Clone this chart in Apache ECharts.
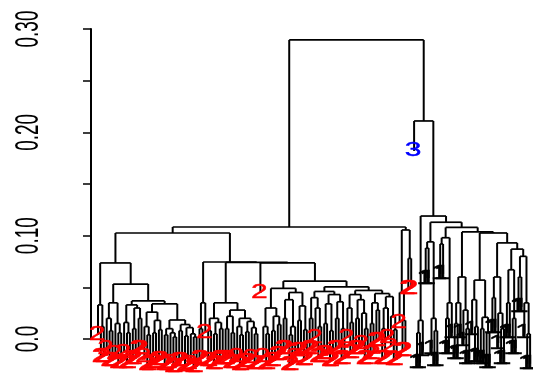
<!DOCTYPE html>
<html>
<head>
<meta charset="utf-8">
<script src="https://cdn.jsdelivr.net/npm/echarts@6/dist/echarts.min.js"></script>
<style>
  html, body { margin: 0; padding: 0; background: #fff; }
  #chart { width: 533px; height: 377px; }
</style>
</head>
<body>
<div id="chart"></div>
<script>
// Dendrogram of 150 observations; leaf labels are group codes.
// Each cluster is [mergeHeight, left, right]; a string is a leaf label.

// --- low-level clusters, left branch ---
const clusterA = [0.033, "2", [0.012, "2", "2"]];
const clusterB = [0.035, [0.02, "2", [0.008, "2", "2"]], [0.015, "2", [0.006, "2", "2"]]];
const clusterC = [0.033, [0.016, "2", [0.006, "2", "2"]], [0.03, [0.01, "2", "2"], [0.02, "2", "2"]]];
const clusterD = [0.026, [0.012, "2", [0.004, "2", "2"]], [0.018, [0.006, "2", "2"], [0.009, "2", "2"]]];
const clusterE = [0.0184, [0.01, [0.004, "2", "2"], [0.006, "2", [0.002, "2", "2"]]],
                          [0.014, [0.008, "2", "2"], [0.011, [0.003, "2", "2"], [0.005, "2", [0.002, "2", "2"]]]]];
const clusterF = [0.035, [0.01, "2", "2"], "2"];
const clusterG = [0.02, [0.008, "2", "2"], [0.016, [0.005, "2", "2"], [0.01, "2", "2"]]];
const clusterH = [0.022, [0.01, "2", "2"], [0.006, "2", "2"]];
const clusterI = [0.02, [0.012, "2", [0.004, "2", "2"]], [0.017, [0.007, "2", "2"], [0.011, "2", [0.005, "2", "2"]]]];
const clusterJ = [0.030, [0.012, "2", [0.005, "2", "2"]], [0.022, [0.008, "2", "2"], [0.014, "2", "2"]]];
const clusterK = [0.045, [0.038, [0.02, "2", "2"], [0.012, [0.004, "2", "2"], "2"]], [0.032, [0.018, "2", "2"], [0.009, "2", "2"]]];
const clusterL = [0.046, [0.04, [0.02, "2", "2"], [0.03, "2", [0.012, "2", "2"]]],
                         [0.043, [0.034, [0.015, "2", "2"], [0.008, "2", "2"]], [0.036, [0.02, "2", "2"], [0.01, "2", "2"]]]];
const clusterM = [0.043, [0.03, "2", [0.016, "2", "2"]], [0.038, [0.02, "2", "2"], [0.025, "2", [0.01, "2", "2"]]]];
const clusterN = [0.044, [0.035, [0.015, "2", "2"], [0.028, "2", "2"]],
                         [0.041, [0.03, [0.01, "2", "2"], "2"], [0.022, "2", [0.009, "2", "2"]]]];
const clusterO = [0.1055, [0.045, "2", [0.018, "2", "2"]], [0.078, "2", "2"]];

// --- low-level clusters, right branch ---
const clusterP = [0.018, [0.006, "1", "1"], "1"];
const clusterQ = [0.094, [0.088, "1", "1"], [0.02, "1", [0.008, "1", "1"]]];
const clusterR = [0.098, [0.092, "1", "1"], [0.035, [0.02, "1", "1"], "1"]];
const clusterS = [0.06, [0.035, [0.015, "1", "1"], "1"], [0.028, "1", [0.01, "1", "1"]]];
const clusterT = [0.057, [0.038, "1", [0.012, "1", "1"]], [0.021, [0.01, "1", "1"], [0.006, "1", "1"]]];
const clusterU = [0.060, [0.04, "1", "1"], [0.025, "1", [0.01, "1", "1"]]];
const clusterV = [0.067, [0.035, "1", "1"], [0.02, "1", "1"]];
const clusterW = [0.080, [0.06, "1", "1"], [0.035, "1", [0.005, "1", "1"]]];

// --- upper merges joining the clusters above ---
const mergeNames   = ["a1b2b", "a1b2", "a1b", "a1", "q", "a2b1", "z1", "z2b", "z2", "z", "y", "x", "a2", "a", "left",
                      "rh", "rf", "re", "rd", "rc", "rb", "r2", "r", "root"];
const mergeHeights = [0.034, 0.0368, 0.0532, 0.0736, 0.028, 0.035, 0.049, 0.047, 0.0505, 0.056, 0.0736, 0.0741, 0.0745, 0.1026, 0.1084,
                      0.087, 0.093, 0.1026, 0.1036, 0.108, 0.113, 0.119, 0.211, 0.2894];
const mergeLeft    = ["D", "C", "B", "A", "H", "G", "J", "M", "L", "z1", "2", "a2b1", "F", "a1", "a",
                      "V", "U", "T", "S", "R", "Q", "P", "3", "left"];
const mergeRight   = ["E", "a1b2b", "a1b2", "a1b", "I", "q", "K", "N", "z2b", "z2", "z", "y", "x", "a2", "O",
                      "W", "rh", "rf", "re", "rd", "rc", "rb", "r2", "r"];

// y-axis tick labels
const tickValues = [0, 0.1, 0.2, 0.3];
const tickLabels = ["0.0", "0.10", "0.20", "0.30"];

const labelColors = { "1": "#000000", "2": "#ff0000", "3": "#0000ff" };
const hang = 0.029;

const named = { A: clusterA, B: clusterB, C: clusterC, D: clusterD, E: clusterE, F: clusterF, G: clusterG,
  H: clusterH, I: clusterI, J: clusterJ, K: clusterK, L: clusterL, M: clusterM, N: clusterN, O: clusterO,
  P: clusterP, Q: clusterQ, R: clusterR, S: clusterS, T: clusterT, U: clusterU, V: clusterV, W: clusterW };

function resolve(ref) {
  if (Array.isArray(ref)) return ref;
  if (named[ref]) return named[ref];
  const k = mergeNames.indexOf(ref);
  if (k >= 0) return [mergeHeights[k], mergeLeft[k], mergeRight[k]];
  return ref; // leaf label
}

// Lay out leaves left to right and collect the dendrogram segments.
let nextLeaf = 0;
const segments = []; // [x1, y1, x2, y2, isVertical]
const leaves = [];   // [x, yEnd, label]
function place(ref) {
  const node = resolve(ref);
  if (!Array.isArray(node)) return { x: nextLeaf++, label: node };
  const h = node[0];
  const a = place(node[1]);
  const b = place(node[2]);
  [a, b].forEach(c => {
    const bottom = c.label ? h - hang : c.h;
    segments.push([c.x, h, c.x, bottom, 1]);
    if (c.label) leaves.push([c.x, bottom, c.label]);
  });
  segments.push([a.x, h, b.x, h, 0]);
  return { x: (a.x + b.x) / 2, h: h };
}
place("root");

const xMin = -2.414, xMax = 150;

const chart = echarts.init(document.getElementById("chart"), null, { renderer: "canvas" });
chart.setOption({
  animation: false,
  backgroundColor: "#ffffff",
  grid: { left: 91, right: 0, top: 29, bottom: 38, containLabel: false },
  xAxis: { type: "value", min: xMin, max: xMax, show: false },
  yAxis: {
    type: "value", min: 0, max: 0.3, interval: 0.05,
    axisLine: { show: true, onZero: false, lineStyle: { color: "#000", width: 2 } },
    axisTick: { show: true, length: 8, lineStyle: { color: "#000", width: 1.5 } },
    axisLabel: { show: false },
    splitLine: { show: false }
  },
  series: [
    {
      type: "custom", clip: false, silent: true,
      data: segments,
      encode: { x: [0, 2], y: [1, 3] },
      renderItem: function (params, api) {
        const p1 = api.coord([api.value(0), api.value(1)]);
        const p2 = api.coord([api.value(2), api.value(3)]);
        return {
          type: "line",
          shape: { x1: p1[0], y1: p1[1], x2: p2[0], y2: p2[1] },
          style: { stroke: "#000", lineWidth: api.value(4) ? 2 : 1.7 }
        };
      }
    },
    {
      type: "custom", clip: false, silent: true, z: 3,
      data: leaves.map(d => [d[0], d[1]]),
      encode: { x: 0, y: 1 },
      renderItem: function (params, api) {
        const d = leaves[params.dataIndex];
        const p = api.coord([d[0], d[1]]);
        return {
          type: "text", x: p[0] - 1, y: p[1], scaleX: 1.5,
          style: {
            text: d[2], fill: labelColors[d[2]],
            stroke: labelColors[d[2]], lineWidth: 0.4,
            font: '20px "Liberation Sans", Arial, sans-serif',
            align: "center", verticalAlign: "middle"
          }
        };
      }
    },
    {
      type: "custom", clip: false, silent: true,
      data: tickValues.map(v => [xMin, v]),
      encode: { x: 0, y: 1 },
      renderItem: function (params, api) {
        const p = api.coord([api.value(0), api.value(1)]);
        return {
          type: "text", x: p[0] - 62, y: p[1], rotation: Math.PI / 2, scaleY: 1.7,
          style: {
            text: tickLabels[params.dataIndex], fill: "#000",
            font: '19px "Liberation Sans", Arial, sans-serif',
            align: "center", verticalAlign: "middle"
          }
        };
      }
    }
  ]
});
</script>
</body>
</html>
